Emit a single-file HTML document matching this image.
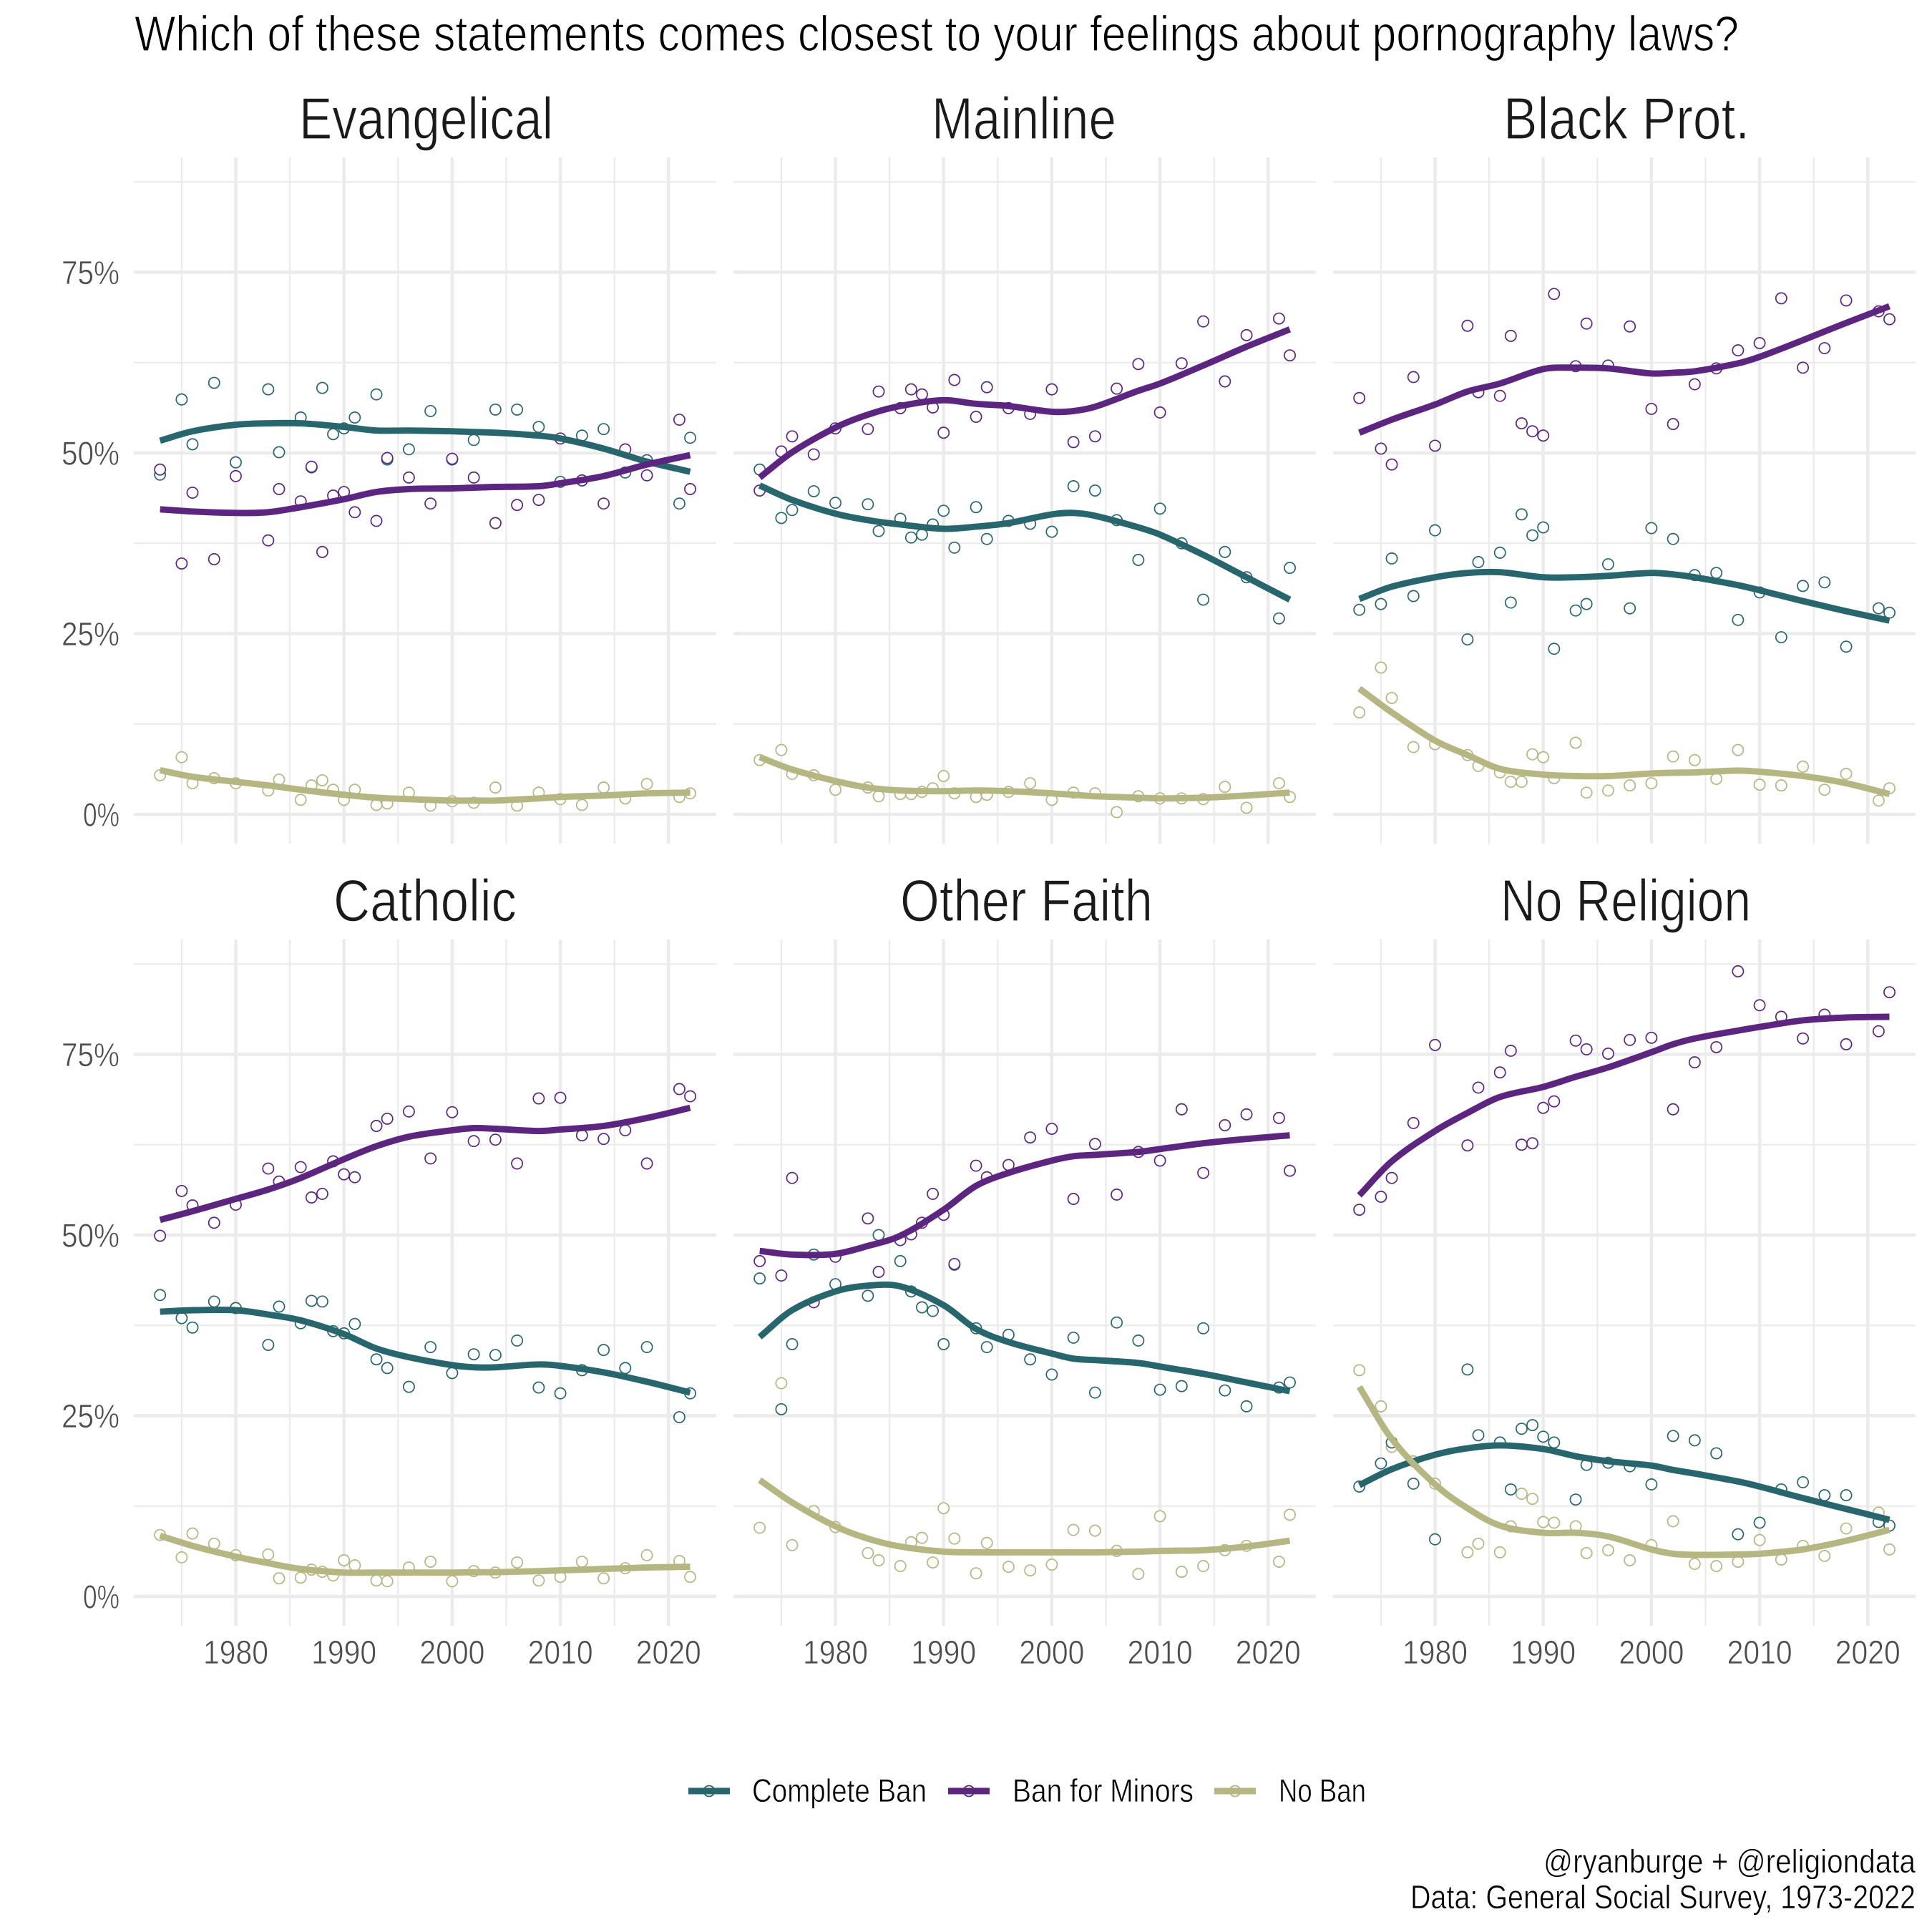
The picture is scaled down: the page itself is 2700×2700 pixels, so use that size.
<!DOCTYPE html>
<html lang="en">
<head>
<meta charset="utf-8">
<title>Pornography laws by religious tradition</title>
<style>
html,body{margin:0;padding:0;background:#fff;}
svg{display:block;font-family:"Liberation Sans",sans-serif;}
.thin-lg{stroke:#ffffff;stroke-width:1.3px;}
.thin-sm{stroke:#ffffff;stroke-width:0.7px;}
</style>
</head>
<body>
<svg id="chart" xmlns="http://www.w3.org/2000/svg" width="2700" height="2700" viewBox="0 0 2700 2700">
  <rect x="0" y="0" width="2700" height="2700" fill="#ffffff"/>
  <text class="thin-lg" x="188" y="71" font-size="70" fill="#000000" textLength="2242" lengthAdjust="spacingAndGlyphs">Which of these statements comes closest to your feelings about pornography laws?</text>
  <g id="panels"></g>
  <g>
    <g>
      <circle cx="991" cy="2503" r="7.5" fill="#fff" stroke="#28666e" stroke-width="1.8"/>
      <line x1="962" x2="1020" y1="2503" y2="2503" stroke="#28666e" stroke-width="9"/>
      <text class="thin-sm" x="1051" y="2518" font-size="45" fill="#000000" textLength="244" lengthAdjust="spacingAndGlyphs">Complete Ban</text>
    </g>
    <g>
      <circle cx="1354" cy="2503" r="7.5" fill="#fff" stroke="#5c2580" stroke-width="1.8"/>
      <line x1="1325" x2="1383" y1="2503" y2="2503" stroke="#5c2580" stroke-width="9"/>
      <text class="thin-sm" x="1415" y="2518" font-size="45" fill="#000000" textLength="253" lengthAdjust="spacingAndGlyphs">Ban for Minors</text>
    </g>
    <g>
      <circle cx="1726" cy="2503" r="7.5" fill="#fff" stroke="#b5b682" stroke-width="1.8"/>
      <line x1="1697" x2="1755" y1="2503" y2="2503" stroke="#b5b682" stroke-width="9"/>
      <text class="thin-sm" x="1787" y="2518" font-size="45" fill="#000000" textLength="122" lengthAdjust="spacingAndGlyphs">No Ban</text>
    </g>
  </g>
  <text class="thin-sm" x="2157" y="2617" font-size="46" fill="#000000" textLength="520" lengthAdjust="spacingAndGlyphs">@ryanburge + @religiondata</text>
  <text class="thin-sm" x="1971" y="2667" font-size="46" fill="#000000" textLength="706" lengthAdjust="spacingAndGlyphs">Data: General Social Survey, 1973-2022</text>
</svg>
<script>
const years = [1973,1975,1976,1978,1980,1983,1984,1986,1987,1988,1989,1990,1991,1993,1994,1996,1998,2000,2002,2004,2006,2008,2010,2012,2014,2016,2018,2021,2022];
const smoothYears = [1973,1976,1980,1983,1986,1990,1993,1996,2000,2002,2004,2008,2010,2014,2018,2022];
const xMajorTicks = [1980,1990,2000,2010,2020];
const xMinorTicks = [1975,1985,1995,2005,2015];
const yMajorTicks = [0,25,50,75];
const yMinorTicks = [12.5,37.5,62.5,87.5];
const yTickLabels = ['0%','25%','50%','75%'];
const panelTitles = ['Evangelical','Mainline','Black Prot.','Catholic','Other Faith','No Religion'];

const evangelicalComplete = [47.0,57.4,51.2,59.7,48.7,58.8,50.1,54.9,48.0,59.0,52.6,53.4,54.9,58.1,49.1,50.5,55.8,49.1,51.8,56.0,56.0,53.6,46.0,52.4,53.3,47.3,49.0,43.0,52.1];
const evangelicalMinors = [47.7,34.7,44.5,35.3,46.8,37.9,45.0,43.3,48.1,36.3,44.1,44.6,41.8,40.6,49.3,46.6,43.0,49.2,46.6,40.3,42.8,43.5,52.0,46.2,43.0,50.5,46.9,54.6,45.0];
const evangelicalNone = [5.4,7.9,4.3,5.0,4.3,3.3,4.8,2.0,4.0,4.7,3.4,2.0,3.4,1.3,1.5,3.0,1.2,1.8,1.6,3.7,1.2,3.0,2.1,1.3,3.7,2.2,4.2,2.4,2.9];
const evangelicalCompleteSmooth = [51.7,53.0,53.9,54.1,54.1,53.6,53.1,53.1,53.0,52.9,52.8,52.4,52.0,50.6,48.8,47.4];
const evangelicalMinorsSmooth = [42.2,41.9,41.7,41.8,42.5,43.6,44.6,45.0,45.1,45.2,45.3,45.4,45.8,46.8,48.4,49.7];
const evangelicalNoneSmooth = [6.1,5.2,4.5,4.0,3.4,2.7,2.3,2.1,1.9,1.9,1.9,2.2,2.4,2.6,2.9,3.0];

const mainlineComplete = [47.7,41.0,42.1,44.7,43.1,42.9,39.2,40.9,38.3,38.7,40.1,42.0,36.9,42.5,38.1,40.6,40.2,39.1,45.4,44.8,40.7,35.2,42.3,37.5,29.7,36.3,32.8,27.1,34.1];
const mainlineMinors = [44.8,50.2,52.3,49.8,53.4,53.3,58.5,56.2,58.8,58.1,56.3,52.8,60.1,55.0,59.1,56.2,55.4,58.8,51.5,52.3,58.9,62.3,55.6,62.4,68.2,59.9,66.3,68.6,63.5];
const mainlineNone = [7.5,8.9,5.6,5.4,3.4,3.7,2.5,2.8,2.8,3.1,3.6,5.3,2.9,2.4,2.7,3.1,4.3,2.0,3.0,2.9,0.3,2.5,2.2,2.2,2.1,3.8,0.9,4.3,2.4];
const mainlineCompleteSmooth = [45.5,43.5,41.6,40.7,40.1,39.5,39.8,40.3,41.5,41.7,41.3,39.7,38.7,35.9,32.8,29.7];
const mainlineMinorsSmooth = [46.6,50.1,53.5,55.3,56.5,57.3,56.8,56.5,55.7,55.8,56.4,58.6,59.6,62.1,64.7,67.1];
const mainlineNoneSmooth = [7.9,6.2,4.6,3.7,3.3,3.2,3.3,3.2,2.9,2.7,2.5,2.3,2.2,2.3,2.6,3.0];

const blackProtComplete = [28.3,29.1,35.4,30.2,39.3,24.2,34.9,36.2,29.3,41.5,38.6,39.7,22.9,28.2,29.1,34.6,28.5,39.6,38.1,33.1,33.4,26.9,30.7,24.5,31.6,32.1,23.2,28.5,27.9];
const blackProtMinors = [57.6,50.6,48.4,60.5,51.0,67.6,58.4,57.9,66.2,54.1,53.0,52.4,72.0,62.0,67.9,62.1,67.5,56.1,54.0,59.5,61.7,64.2,65.2,71.4,61.8,64.5,71.1,69.6,68.5];
const blackProtNone = [14.1,20.3,16.1,9.3,9.7,8.2,6.7,5.8,4.5,4.5,8.3,7.9,5.0,9.9,3.0,3.3,4.0,4.3,8.0,7.5,4.9,8.9,4.1,4.0,6.6,3.4,5.6,1.9,3.6];
const blackProtCompleteSmooth = [29.8,31.5,32.8,33.4,33.5,32.8,32.8,33.0,33.4,33.2,32.8,31.7,31.0,29.5,28.1,26.8];
const blackProtMinorsSmooth = [52.8,54.6,56.7,58.5,59.6,61.6,61.8,61.7,61.0,61.1,61.3,62.4,63.3,65.6,68.0,70.3];
const blackProtNoneSmooth = [17.4,14.1,10.2,8.2,6.3,5.5,5.3,5.3,5.65,5.75,5.8,6.05,5.9,5.3,4.3,2.8];

const catholicComplete = [41.7,38.5,37.2,40.8,39.9,34.8,40.1,37.8,40.9,40.8,36.7,36.4,37.7,32.8,31.6,29.0,34.5,30.9,33.5,33.4,35.4,28.9,28.1,31.3,34.1,31.6,34.5,24.8,28.1];
const catholicMinors = [49.9,56.1,54.1,51.7,54.2,59.2,57.4,59.4,55.2,55.7,60.2,58.4,58.0,65.1,66.1,67.1,60.6,67.0,63.0,63.2,59.9,68.9,69.0,63.8,63.3,64.5,59.9,70.2,69.2];
const catholicNone = [8.5,5.4,8.7,7.3,5.7,5.8,2.5,2.6,3.7,3.4,2.9,5.0,4.3,2.2,2.1,4.0,4.8,2.1,3.5,3.3,4.7,2.2,2.7,4.8,2.5,3.9,5.7,4.9,2.7];
const catholicCompleteSmooth = [39.4,39.6,39.6,39.0,38.2,36.3,34.3,33.1,32.0,31.7,31.7,32.1,31.9,31.0,29.7,28.2];
const catholicMinorsSmooth = [52.1,53.3,55.0,56.3,57.9,60.5,62.3,63.6,64.5,64.8,64.7,64.4,64.6,65.1,66.2,67.6];
const catholicNoneSmooth = [8.4,7.0,5.5,4.6,3.8,3.3,3.3,3.3,3.3,3.35,3.35,3.5,3.6,3.8,4.0,4.1];

const otherComplete = [44.0,25.9,34.9,47.3,43.2,41.6,50.0,46.4,42.2,40.0,39.5,34.9,45.9,37.1,34.5,36.2,32.8,30.7,35.8,28.2,37.9,35.4,28.6,29.1,37.1,28.5,26.3,28.9,29.6];
const otherMinors = [46.4,44.4,57.9,40.7,47.0,52.3,44.9,49.3,50.1,51.7,55.7,52.8,46.0,59.6,58.0,59.7,63.5,64.7,55.0,62.6,55.6,61.5,60.3,67.4,58.6,65.2,66.7,66.2,58.9];
const otherNone = [9.5,29.5,7.1,11.8,9.6,6.0,5.0,4.2,7.5,8.1,4.7,12.2,8.0,3.2,7.4,4.1,3.6,4.4,9.2,9.1,6.3,3.1,11.1,3.4,4.2,6.4,7.0,4.8,11.3];
const otherCompleteSmooth = [35.9,39.6,42.2,43.0,42.9,40.3,37.0,35.2,33.6,32.9,32.7,32.3,31.8,30.8,29.6,28.4];
const otherMinorsSmooth = [47.8,47.3,47.4,48.5,49.9,53.5,56.8,58.6,60.3,60.9,61.1,61.5,61.9,62.7,63.3,63.8];
const otherNoneSmooth = [16.1,13.0,9.7,8.0,6.9,6.2,6.1,6.1,6.1,6.1,6.1,6.2,6.3,6.4,6.9,7.7];

const noReligionComplete = [15.2,18.4,21.3,15.6,7.9,31.4,22.3,21.3,14.8,23.2,23.7,22.1,21.3,13.4,18.2,18.5,18.0,15.5,22.2,21.6,19.8,8.6,10.2,14.8,15.8,14.0,14.0,10.3,9.8];
const noReligionMinors = [53.5,55.3,57.9,65.5,76.3,62.4,70.4,72.5,75.5,62.5,62.7,67.6,68.5,76.9,75.7,75.1,77.0,77.3,67.4,73.9,76.0,86.5,81.8,80.2,77.2,80.5,76.4,78.2,83.6];
const noReligionNone = [31.3,26.3,20.7,18.7,15.6,6.1,7.3,6.1,9.7,14.2,13.5,10.3,10.2,9.7,6.0,6.4,5.0,7.1,10.4,4.5,4.2,4.8,7.8,5.1,7.0,5.6,9.4,11.6,6.5];
const noReligionCompleteSmooth = [15.4,17.6,19.6,20.5,20.9,20.4,19.4,18.7,18.1,17.5,17.0,15.9,15.2,13.6,12.1,10.6];
const noReligionMinorsSmooth = [55.5,60.2,64.4,66.9,69.1,70.5,71.9,73.2,75.3,76.4,77.2,78.3,78.8,79.7,80.1,80.2];
const noReligionNoneSmooth = [29.0,21.8,15.5,12.2,9.8,8.8,8.8,8.3,6.5,5.9,5.75,5.8,5.9,6.5,7.7,9.2];

const completeByPanel = [evangelicalComplete,mainlineComplete,blackProtComplete,catholicComplete,otherComplete,noReligionComplete];
const minorsByPanel = [evangelicalMinors,mainlineMinors,blackProtMinors,catholicMinors,otherMinors,noReligionMinors];
const noneByPanel = [evangelicalNone,mainlineNone,blackProtNone,catholicNone,otherNone,noReligionNone];
const completeSmoothByPanel = [evangelicalCompleteSmooth,mainlineCompleteSmooth,blackProtCompleteSmooth,catholicCompleteSmooth,otherCompleteSmooth,noReligionCompleteSmooth];
const minorsSmoothByPanel = [evangelicalMinorsSmooth,mainlineMinorsSmooth,blackProtMinorsSmooth,catholicMinorsSmooth,otherMinorsSmooth,noReligionMinorsSmooth];
const noneSmoothByPanel = [evangelicalNoneSmooth,mainlineNoneSmooth,blackProtNoneSmooth,catholicNoneSmooth,otherNoneSmooth,noReligionNoneSmooth];

const SVGNS = 'http://www.w3.org/2000/svg';
const TEAL = '#28666e', PURPLE = '#5c2580', KHAKI = '#b5b682';
const PANEL_W = 814, PANEL_H = 959;
const lefts = [187, 1025, 1863];
const tops = [220, 1313];
const titleSpans = [[418,773,194],[1302,1560,194],[2101,2445,194],[466,722,1287],[1258,1611,1287],[2097,2447,1287]];

function xScale(year, left) { return left + 142.5 + (year - 1980) * 15.12; }
function yScale(pct, top) { return top + 918 - pct * 10.1; }

function make(tag, attrs, parent) {
  const el = document.createElementNS(SVGNS, tag);
  for (const k in attrs) el.setAttribute(k, attrs[k]);
  parent.appendChild(el);
  return el;
}

function curvePath(xs, ys) {
  let d = 'M' + xs[0].toFixed(1) + ' ' + ys[0].toFixed(1);
  for (let i = 0; i < xs.length - 1; i++) {
    const i0 = Math.max(0, i - 1), i3 = Math.min(xs.length - 1, i + 2);
    const dx = xs[i + 1] - xs[i];
    const m1 = (ys[i + 1] - ys[i0]) / (xs[i + 1] - xs[i0]);
    const m2 = (ys[i3] - ys[i]) / (xs[i3] - xs[i]);
    d += ' C' + (xs[i] + dx / 3).toFixed(1) + ' ' + (ys[i] + m1 * dx / 3).toFixed(1) +
         ' ' + (xs[i + 1] - dx / 3).toFixed(1) + ' ' + (ys[i + 1] - m2 * dx / 3).toFixed(1) +
         ' ' + xs[i + 1].toFixed(1) + ' ' + ys[i + 1].toFixed(1);
  }
  return d;
}

function drawPoints(group, values, color, left, top) {
  years.forEach(function (yr, i) {
    const el = make('circle', {cx: xScale(yr, left), cy: yScale(values[i], top), r: 7.6, fill: '#ffffff', stroke: color, 'stroke-width': 1.7}, group);
    
    
  });
}

function drawLine(group, values, color, left, top) {
  const xs = smoothYears.map(function (y) { return xScale(y, left); });
  const ys = values.map(function (v) { return yScale(v, top); });
  const el = make('path', {d: curvePath(xs, ys), fill: 'none', stroke: color, 'stroke-width': 8.9, 'stroke-linecap': 'butt', 'stroke-linejoin': 'round'}, group);
  
  
}

const root = document.getElementById('panels');
panelTitles.forEach(function (title, p) {
  const left = lefts[p % 3];
  const top = tops[Math.floor(p / 3)];
  const g = make('g', {}, root);
  
  

  xMinorTicks.forEach(function (t) {
    const x = xScale(t, left);
    const el = make('line', {x1: x, x2: x, y1: top, y2: top + PANEL_H, stroke: '#ebebeb', 'stroke-width': 2.2}, g);
    
    
  });
  yMinorTicks.forEach(function (t) {
    const y = yScale(t, top);
    const el = make('line', {x1: left, x2: left + PANEL_W, y1: y, y2: y, stroke: '#ebebeb', 'stroke-width': 2.2}, g);
    
    
  });
  xMajorTicks.forEach(function (t) {
    const x = xScale(t, left);
    const el = make('line', {x1: x, x2: x, y1: top, y2: top + PANEL_H, stroke: '#ebebeb', 'stroke-width': 4.4}, g);
    
    
  });
  yMajorTicks.forEach(function (t) {
    const y = yScale(t, top);
    const el = make('line', {x1: left, x2: left + PANEL_W, y1: y, y2: y, stroke: '#ebebeb', 'stroke-width': 4.4}, g);
    
    
  });

  const span = titleSpans[p];
  const tt = make('text', {class: 'thin-lg', x: span[0], y: span[2], 'font-size': 83, fill: '#1a1a1a', textLength: span[1] - span[0], lengthAdjust: 'spacingAndGlyphs'}, g);
  tt.textContent = title;
  
  

  if (p % 3 === 0) {
    yMajorTicks.forEach(function (t, i) {
      const label = yTickLabels[i];
      const w = label.length === 2 ? 51 : 81;
      const el = make('text', {class: 'thin-sm', x: 167 - w, y: yScale(t, top) + 16.5, 'font-size': 46, fill: '#4d4d4d', textLength: w, lengthAdjust: 'spacingAndGlyphs'}, g);
      el.textContent = label;
      
      
    });
  }
  if (p >= 3) {
    xMajorTicks.forEach(function (t) {
      const x = xScale(t, left);
      const el = make('text', {class: 'thin-sm', x: x - 45.5, y: 2325, 'font-size': 46, fill: '#4d4d4d', textLength: 91, lengthAdjust: 'spacingAndGlyphs'}, g);
      el.textContent = String(t);
      
      
    });
  }

  drawPoints(g, noneByPanel[p], KHAKI, left, top);
  drawPoints(g, completeByPanel[p], TEAL, left, top);
  drawPoints(g, minorsByPanel[p], PURPLE, left, top);
  drawLine(g, completeSmoothByPanel[p], TEAL, left, top);
  drawLine(g, minorsSmoothByPanel[p], PURPLE, left, top);
  drawLine(g, noneSmoothByPanel[p], KHAKI, left, top);
});
</script>
</body>
</html>
